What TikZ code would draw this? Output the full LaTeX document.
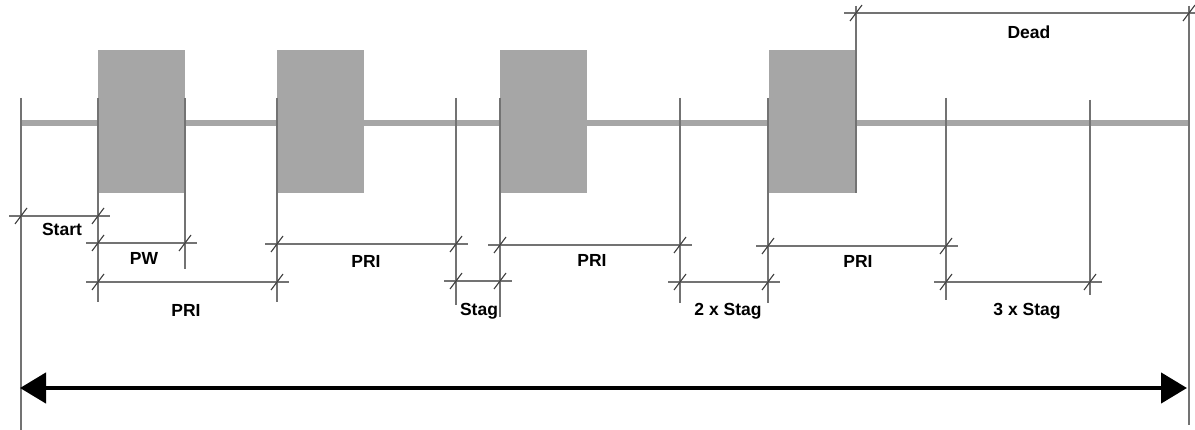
\documentclass[tikz,border=0pt]{standalone}
\usepackage{fontspec}
\setmainfont{Liberation Sans}
\usetikzlibrary{arrows.meta}
\definecolor{pgray}{HTML}{A6A6A6}
\newcommand\dimx[4]{%
  \coordinate (#1a) at (#2,#4);
  \coordinate (#1b) at (#3,#4);
  \draw[dimln] ([xshift=-12pt]#1a) -- ([xshift=12pt]#1b);
  \draw[tickln] ([shift={(-6,8)}]#1a) -- ([shift={(6,-8)}]#1a);
  \draw[tickln] ([shift={(-6,8)}]#1b) -- ([shift={(6,-8)}]#1b);
}
\begin{document}
\begin{tikzpicture}[x=1pt,y=-1pt,
  ext/.style={draw=black!55, line width=1.1pt},
  dimln/.style={draw=black!55, line width=1.1pt},
  tickln/.style={draw=black!75, line width=1.1pt},
  lbl/.style={font=\bfseries\fontsize{17.5}{20}\selectfont, anchor=base, inner sep=0pt},
  pulse/.style={fill=pgray, draw=none, minimum width=87pt, minimum height=143pt, inner sep=0pt},
  base/.style={draw=pgray, line width=6pt},
  big/.style={draw=black, line width=4.5pt, {Triangle[length=26pt,width=30pt]}-{Triangle[length=26pt,width=30pt]}}
]
\useasboundingbox (0,0) rectangle (1195,430);
\fill[white] (0,0) rectangle (1195,430);
% baseline
\coordinate (bl) at (21,123);
\coordinate (br) at (1189,123);
\draw[base] (bl) -- (br);
% pulses
\node[pulse] (p1) at (141.5,121.5) {};
\node[pulse] (p2) at (320.5,121.5) {};
\node[pulse] (p3) at (543.5,121.5) {};
\node[pulse] (p4) at (812,121.5) {};
% extension lines
\draw[ext] (21,98) -- (21,430);
\draw[ext] (98,98) -- (98,302);
\draw[ext] (185,98) -- (185,269);
\draw[ext] (277,98) -- (277,302);
\draw[ext] (456,98) -- (456,305);
\draw[ext] (500,98) -- (500,317);
\draw[ext] (680,98) -- (680,303);
\draw[ext] (768,98) -- (768,303);
\draw[ext] (856,6) -- (856,193);
\draw[ext] (946,98) -- (946,300);
\draw[ext] (1090,100) -- (1090,295);
\draw[ext] (1189,6) -- (1189,425);
% dimensions
\dimx{st}{21}{98}{216}
\dimx{pw}{98}{185}{243}
\dimx{pra}{98}{277}{282}
\dimx{prb}{277}{456}{244}
\dimx{sga}{456}{500}{281}
\dimx{prc}{500}{680}{245}
\dimx{sgb}{680}{768}{282}
\dimx{prd}{768}{946}{246}
\dimx{sgc}{946}{1090}{282}
\dimx{dd}{856}{1189}{13}
% labels
\node[lbl] (tStart) at (62,236) {Start};
\node[lbl] (tPW) at (144,265) {PW};
\node[lbl] (tPRIa) at (186,317) {PRI};
\node[lbl] (tPRIb) at (366,268) {PRI};
\node[lbl] (tStag) at (479,316) {Stag};
\node[lbl] (tPRIc) at (592,267) {PRI};
\node[lbl] (tStagb) at (728,316) {2 x Stag};
\node[lbl] (tPRId) at (858,268) {PRI};
\node[lbl] (tStagc) at (1027,316) {3 x Stag};
\node[lbl] (tDead) at (1029,39) {Dead};
% big arrow
\coordinate (aL) at (20,388);
\coordinate (aR) at (1187,388);
\draw[big] (aL) -- (aR);
\end{tikzpicture}
\end{document}
